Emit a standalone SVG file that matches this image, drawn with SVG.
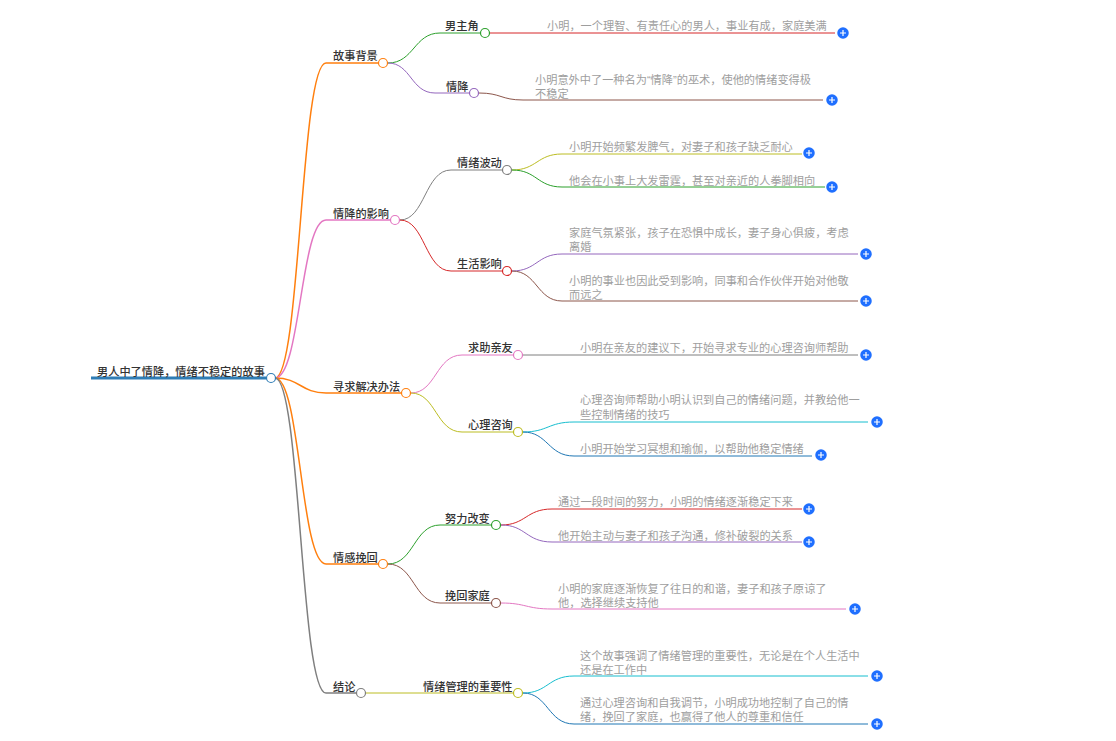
<svg xmlns="http://www.w3.org/2000/svg" width="1116" height="741" viewBox="0 0 1116 741">
<style>
text{font-family:"Liberation Sans","Noto Sans CJK SC",sans-serif;font-size:11.2px}
.l{fill:#333;font-weight:500}
.t{fill:#9e9e9e}
.c{fill:none;stroke-width:1}
.c1{fill:none;stroke-width:1.5}
.n{fill:#fff;stroke-width:1.2}
.p{fill:#1f6fff}
.x{stroke:#fff;stroke-width:1.2;fill:none}
</style>
<defs>
<g id="plus"><circle class="p" r="5.75"/><path class="x" d="M-3 0H3M0-3V3"/></g>
</defs>
<rect width="1116" height="741" fill="#fff"/>
<g id="connectors">
<path d="M91 378H266" fill="none" stroke="#2f7db5" stroke-width="3"/>
<path class="c1" stroke="#ff7f0e" d="M275 378C300.5 378 300.5 63 326 63H378"/>
<path class="c1" stroke="#e377c2" d="M275 378C300.5 378 300.5 220 326 220H390"/>
<path class="c1" stroke="#ff7f0e" d="M275 378C300.5 378 300.5 393 326 393H401"/>
<path class="c1" stroke="#ff7f0e" d="M275 378C300.5 378 300.5 564 326 564H378"/>
<path class="c1" stroke="#7f7f7f" d="M275 378C300.5 378 300.5 693 326 693H356"/>
<path class="c" stroke="#2ca02c" d="M388 63C414 63 414 33 440 33H480"/>
<path class="c" stroke="#9467bd" d="M388 63C411 63 411 93 435 93H469"/>
<path class="c" stroke="#7f7f7f" d="M400 220C425 220 425 170 451 170H502"/>
<path class="c" stroke="#d62728" d="M400 220C425 220 425 271 451 271H502"/>
<path class="c" stroke="#e377c2" d="M411 393C436 393 436 355 462 355H513"/>
<path class="c" stroke="#bcbd22" d="M411 393C436 393 436 432 462 432H513"/>
<path class="c" stroke="#2ca02c" d="M388 564C414 564 414 525 440 525H491"/>
<path class="c" stroke="#8c564b" d="M388 564C414 564 414 603 440 603H491"/>
<path class="c" stroke="#bcbd22" d="M366 693H513"/>
<path class="c" stroke="#d62728" d="M490 33H835"/>
<path class="c" stroke="#8c564b" d="M479 93C501 93 501 100 523 100H823"/>
<path class="c" stroke="#bcbd22" d="M512 170C537 170 537 154 562 154H802"/>
<path class="c" stroke="#2ca02c" d="M512 170C537 170 537 187 562 187H825"/>
<path class="c" stroke="#9467bd" d="M512 271C537 271 537 254 562 254H858"/>
<path class="c" stroke="#8c564b" d="M512 271C537 271 537 301 562 301H858"/>
<path class="c" stroke="#7f7f7f" d="M523 355H858"/>
<path class="c" stroke="#17becf" d="M523 432C548 432 548 422 574 422H868"/>
<path class="c" stroke="#1f77b4" d="M523 432C548 432 548 456 574 456H812"/>
<path class="c" stroke="#d62728" d="M501 525C526 525 526 509 552 509H802"/>
<path class="c" stroke="#9467bd" d="M501 525C526 525 526 542 552 542H802"/>
<path class="c" stroke="#e377c2" d="M501 603C526 603 526 609 552 609H846"/>
<path class="c" stroke="#17becf" d="M523 693C548 693 548 676 574 676H868"/>
<path class="c" stroke="#1f77b4" d="M523 693C548 693 548 724 574 724H868"/>
</g>
<g id="root"><text class="l" x="97" y="376">男人中了情降，情绪不稳定的故事</text><circle class="n" stroke="#2f7db5" cx="271" cy="378" r="4.5"/></g>
<g id="n1"><text class="l" x="333" y="60">故事背景</text><circle class="n" stroke="#ff7f0e" cx="383" cy="63" r="4.5"/></g>
<g id="n2"><text class="l" x="333" y="218">情降的影响</text><circle class="n" stroke="#e377c2" cx="395" cy="220" r="4.5"/></g>
<g id="n3"><text class="l" x="333" y="391">寻求解决办法</text><circle class="n" stroke="#ff7f0e" cx="406" cy="393" r="4.5"/></g>
<g id="n4"><text class="l" x="333" y="562">情感挽回</text><circle class="n" stroke="#ff7f0e" cx="383" cy="564" r="4.5"/></g>
<g id="n5"><text class="l" x="333" y="691">结论</text><circle class="n" stroke="#7f7f7f" cx="361" cy="693" r="4.5"/></g>
<g id="n11"><text class="l" x="445" y="30">男主角</text><circle class="n" stroke="#2ca02c" cx="485" cy="33" r="4.5"/></g>
<g id="n12"><text class="l" x="446" y="91">情降</text><circle class="n" stroke="#9467bd" cx="474" cy="93" r="4.5"/></g>
<g id="n21"><text class="l" x="457" y="167">情绪波动</text><circle class="n" stroke="#7f7f7f" cx="507" cy="170" r="4.5"/></g>
<g id="n22"><text class="l" x="457" y="268">生活影响</text><circle class="n" stroke="#d62728" cx="507" cy="271" r="4.5"/></g>
<g id="n31"><text class="l" x="468" y="352">求助亲友</text><circle class="n" stroke="#e377c2" cx="518" cy="355" r="4.5"/></g>
<g id="n32"><text class="l" x="468" y="429">心理咨询</text><circle class="n" stroke="#bcbd22" cx="518" cy="432" r="4.5"/></g>
<g id="n41"><text class="l" x="445" y="523">努力改变</text><circle class="n" stroke="#2ca02c" cx="496" cy="525" r="4.5"/></g>
<g id="n42"><text class="l" x="445" y="600">挽回家庭</text><circle class="n" stroke="#8c564b" cx="496" cy="603" r="4.5"/></g>
<g id="n51"><text class="l" x="423" y="691">情绪管理的重要性</text><circle class="n" stroke="#bcbd22" cx="518" cy="693" r="4.5"/></g>
<g id="t1"><text class="t" x="547" y="30">小明，一个理智、有责任心的男人，事业有成，家庭美满</text><use href="#plus" x="843" y="33"/></g>
<g id="t2"><text class="t" x="535" y="84">小明意外中了一种名为“情降”的巫术，使他的情绪变得极</text><text class="t" x="535" y="98">不稳定</text><use href="#plus" x="832" y="100"/></g>
<g id="t3"><text class="t" x="569" y="151">小明开始频繁发脾气，对妻子和孩子缺乏耐心</text><use href="#plus" x="809" y="153"/></g>
<g id="t4"><text class="t" x="569" y="185">他会在小事上大发雷霆，甚至对亲近的人拳脚相向</text><use href="#plus" x="832" y="187"/></g>
<g id="t5"><text class="t" x="569" y="237">家庭气氛紧张，孩子在恐惧中成长，妻子身心俱疲，考虑</text><text class="t" x="569" y="251">离婚</text><use href="#plus" x="866" y="254"/></g>
<g id="t6"><text class="t" x="569" y="285">小明的事业也因此受到影响，同事和合作伙伴开始对他敬</text><text class="t" x="569" y="299">而远之</text><use href="#plus" x="866" y="301"/></g>
<g id="t7"><text class="t" x="580" y="352">小明在亲友的建议下，开始寻求专业的心理咨询师帮助</text><use href="#plus" x="866" y="355"/></g>
<g id="t8"><text class="t" x="580" y="404">心理咨询师帮助小明认识到自己的情绪问题，并教给他一</text><text class="t" x="580" y="419">些控制情绪的技巧</text><use href="#plus" x="877" y="422"/></g>
<g id="t9"><text class="t" x="580" y="453">小明开始学习冥想和瑜伽，以帮助他稳定情绪</text><use href="#plus" x="821" y="455"/></g>
<g id="t10"><text class="t" x="558" y="506">通过一段时间的努力，小明的情绪逐渐稳定下来</text><use href="#plus" x="809" y="509"/></g>
<g id="t11"><text class="t" x="558" y="540">他开始主动与妻子和孩子沟通，修补破裂的关系</text><use href="#plus" x="809" y="542"/></g>
<g id="t12"><text class="t" x="558" y="593">小明的家庭逐渐恢复了往日的和谐，妻子和孩子原谅了</text><text class="t" x="558" y="607">他，选择继续支持他</text><use href="#plus" x="855" y="609"/></g>
<g id="t13"><text class="t" x="580" y="660">这个故事强调了情绪管理的重要性，无论是在个人生活中</text><text class="t" x="580" y="674">还是在工作中</text><use href="#plus" x="877" y="676"/></g>
<g id="t14"><text class="t" x="580" y="707">通过心理咨询和自我调节，小明成功地控制了自己的情</text><text class="t" x="580" y="721">绪，挽回了家庭，也赢得了他人的尊重和信任</text><use href="#plus" x="877" y="724"/></g>
</svg>
